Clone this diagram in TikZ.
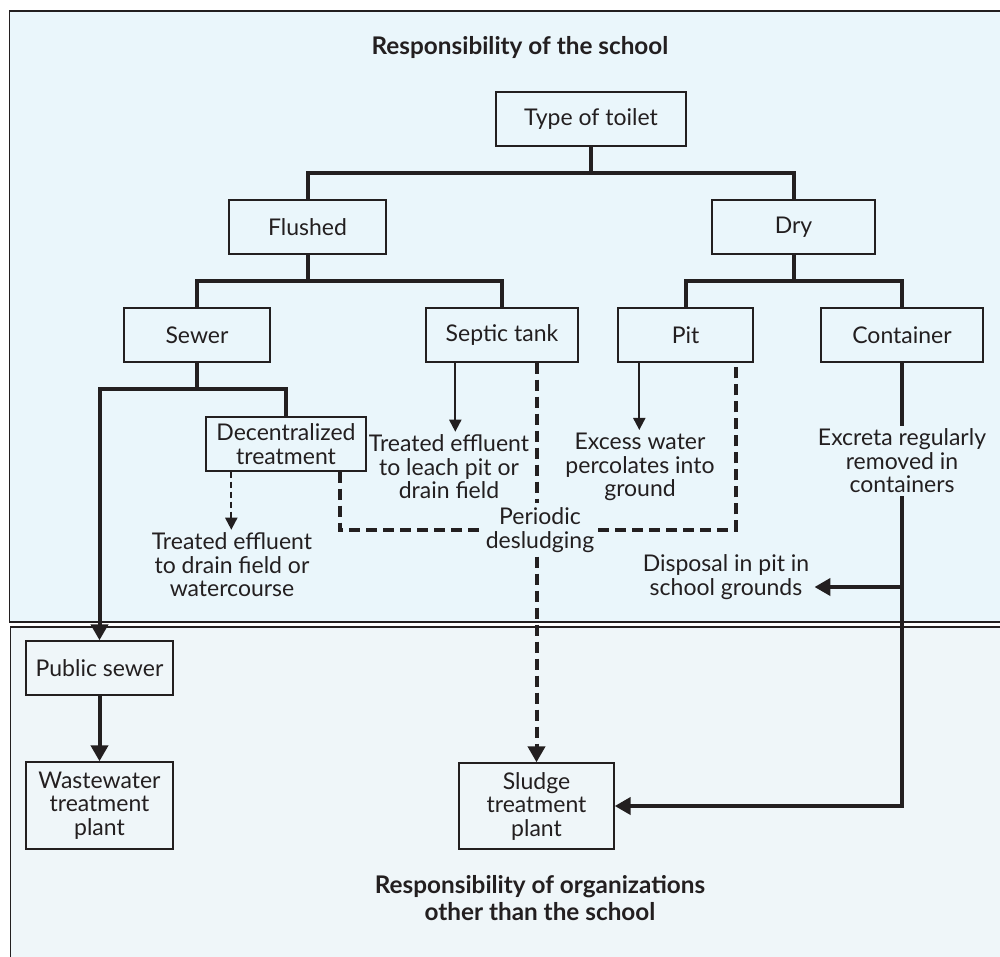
\documentclass[tikz,border=0pt]{standalone}
\usepackage{fontspec}
\setmainfont{Lato}
\usetikzlibrary{arrows.meta,calc}
\definecolor{ink}{HTML}{231F20}
\definecolor{schoolfill}{HTML}{EAF6FB}
\definecolor{otherfill}{HTML}{EFF6F9}
\newcommand\lbl{\fontsize{23}{23.5}\selectfont}
\newcommand\ttl{\fontsize{24.3}{27}\selectfont\bfseries}
\begin{document}
\begin{tikzpicture}[x=1pt,y=-1pt,
  box/.style={draw=ink, line width=1.4pt, inner sep=0pt, align=center,
    text=ink, font=\lbl, minimum height=54pt},
  note/.style={inner sep=3pt, align=center, text=ink, font=\lbl},
  trunk/.style={draw=ink, line width=4pt},
  thinarrow/.style={draw=ink, line width=2pt, -{Triangle[width=12pt,length=12pt]}},
  bigtip/.style={-{Triangle[width=17pt,length=16pt]}},
  sludgedash/.style={draw=ink, line width=4pt, dash pattern=on 11pt off 6pt},
  effdash/.style={draw=ink, line width=2pt, dash pattern=on 6pt off 4pt,
    -{Triangle[width=12pt,length=12pt]}},
  panel/.style={draw=ink, line width=1.5pt}]
\useasboundingbox (0,0) rectangle (1000,956);
\clip (0,0) rectangle (1000,956);

% two responsibility zones
\path[panel, fill=schoolfill] (9.5,11) rectangle (1010,622);
\path[panel, fill=otherfill] (10.5,627) rectangle (1010,980);

\node[text=ink, font=\ttl] (title1) at (520,48) {Responsibility of the school};
\node[text=ink, font=\ttl, align=center] (title2) at (540,898)
  {Responsibility of organizations\\other than the school};

% tree of toilet types
\node[box, minimum width=190pt] (type) at (591,119) {Type of toilet};
\node[box, minimum width=157pt] (flushed) at (307.5,227) {Flushed};
\node[box, minimum width=163pt] (dry) at (793.5,227) {Dry};
\node[box, minimum width=146pt] (sewer) at (197,335) {Sewer};
\node[box, minimum width=152pt] (septic) at (502,335) {Septic tank};
\node[box, minimum width=135pt] (pit) at (685.5,335) {Pit};
\node[box, minimum width=162pt] (container) at (902,335) {Container};
\node[box, minimum width=160pt] (dec) at (286,444) {Decentralized\\treatment};

\node[box, minimum width=147pt] (public) at (99.5,668) {Public sewer};
\node[box, minimum width=147pt, minimum height=87pt] (wwtp) at (99.5,805.5)
  {Wastewater\\treatment\\plant};
\node[box, minimum width=155pt, minimum height=86pt] (sludge) at (536.5,806)
  {Sludge\\treatment\\plant};

% outcome labels
\node[note] (eff1) at (232,565) {Treated effluent\\to drain field or\\watercourse};
\node[note] (eff2) at (449,467) {Treated effluent\\to leach pit or\\drain field};
\node[note] (water) at (640,467) {Excess water\\percolates into\\ground};
\node[note] (excreta) at (902,461) {Excreta regularly\\removed in\\containers};
\node[note, inner sep=4pt] (desl) at (540,530) {Periodic\\desludging};
\node[note, inner sep=5pt] (disp) at (726,577) {Disposal in pit in\\school grounds};

% junctions
\coordinate (j1) at (591,173);
\coordinate (j2) at (307.5,281);
\coordinate (j3) at (793.5,281);
\coordinate (j4) at (197,389);
\coordinate (j5) at (902,587);
\coordinate (decsl) at ($(dec.south east)+(-27,0)$);
\coordinate (decef) at ($(dec.south west)+(26,0)$);
\coordinate (pitsl) at ($(pit.south east)+(-18,0)$);
\coordinate (pitef) at ($(pit.south west)+(22,0)$);
\coordinate (sepef) at ($(septic.south west)+(30,0)$);

% branching connectors
\draw[trunk] (type.south) -- (j1);
\draw[trunk] (flushed.north) |- (j1) -| (dry.north);
\draw[trunk] (flushed.south) -- (j2);
\draw[trunk] (sewer.north) |- (j2) -| (septic.north);
\draw[trunk] (dry.south) -- (j3);
\draw[trunk] (pit.north) |- (j3) -| (container.north);
\draw[trunk] (sewer.south) -- (j4);
\draw[trunk] (dec.north) |- (j4);
\draw[trunk, bigtip] (j4) -| (public.north);
\draw[trunk, bigtip] (public.south) -- (wwtp.north);

% effluent and infiltration
\draw[effdash] (decef) -- (decef |- eff1.north);
\draw[thinarrow] (sepef) -- (sepef |- eff2.north);
\draw[thinarrow] (pitef) -- (pitef |- water.north);

% desludging routes
\draw[sludgedash] (decsl) |- (desl.west);
\draw[sludgedash] (desl.east) -| (pitsl);
\draw[sludgedash] (sludge.north |- septic.south) -- (sludge.north |- desl.north);
\draw[sludgedash, bigtip] (sludge.north |- desl.south) -- (sludge.north);

% container route
\draw[trunk] (container.south) -- (excreta.north);
\draw[trunk, bigtip] (excreta.south) |- (sludge.east);
\draw[trunk, bigtip] (j5) -- (disp.east |- j5);
\end{tikzpicture}
\end{document}
